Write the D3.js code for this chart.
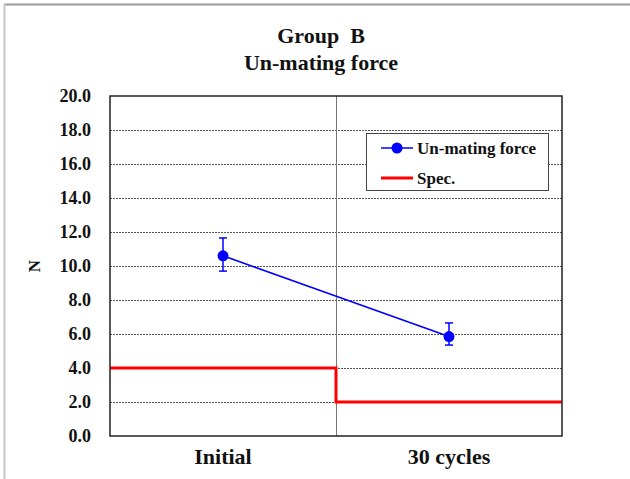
<!DOCTYPE html>
<html>
<head>
<meta charset="utf-8">
<script src="https://cdn.jsdelivr.net/npm/d3@7/dist/d3.min.js"></script>
<style>
  html, body { margin: 0; padding: 0; background: #fff; }
  svg text { font-family: "Liberation Serif", "Times New Roman", serif; font-weight: bold; fill: #111; }
</style>
</head>
<body>
<svg id="chart" width="630" height="479"></svg>
<script>
const categories = ["Initial", "30 cycles"];
const meanValues = [10.6, 5.85];
const errTop = [11.65, 6.65];
const errBottom = [9.7, 5.35];
const specValues = [4.0, 2.0];
const yTicks = [0, 2, 4, 6, 8, 10, 12, 14, 16, 18, 20];
const titleLines = ["Group  B", "Un-mating force"];
const seriesNames = ["Un-mating force", "Spec."];

const svg = d3.select("#chart");
const W = 630, H = 479;
const plot = { left: 110, right: 562, top: 96, bottom: 436 };

// outer frame (top & left edges)
svg.append("line").attr("x1", 4).attr("x2", W).attr("y1", 4.5).attr("y2", 4.5)
  .attr("stroke", "#9a9a9a").attr("stroke-width", 2);
svg.append("line").attr("x1", 4.5).attr("x2", 4.5).attr("y1", 4).attr("y2", H)
  .attr("stroke", "#c8c8c8").attr("stroke-width", 2);

const x = d3.scaleBand().domain(categories).range([plot.left, plot.right]).padding(0);
const y = d3.scaleLinear().domain([0, 20]).range([plot.bottom, plot.top]);

// gridlines
svg.append("g").selectAll("line").data(yTicks.filter(t => t > 0 && t < 20)).join("line")
  .attr("x1", plot.left).attr("x2", plot.right)
  .attr("y1", d => Math.round(y(d)) + 0.5).attr("y2", d => Math.round(y(d)) + 0.5)
  .attr("stroke", "#555").attr("stroke-width", 1).attr("stroke-dasharray", "2,1");

// category divider
categories.slice(1).forEach(c => {
  svg.append("line").attr("x1", Math.round(x(c)) + 0.5).attr("x2", Math.round(x(c)) + 0.5)
    .attr("y1", plot.top).attr("y2", plot.bottom).attr("stroke", "#777").attr("stroke-width", 1);
});

// y axis
const yAxis = d3.axisLeft(y).tickValues(yTicks).tickFormat(d3.format(".1f")).tickSize(0).tickPadding(19);
const gy = svg.append("g").attr("transform", `translate(${plot.left},0)`).call(yAxis);
gy.select(".domain").remove();
gy.selectAll("text").attr("font-size", 18).attr("fill", "#111")
  .attr("font-family", "Liberation Serif, serif").attr("font-weight", "bold");

// x axis labels
const xAxis = d3.axisBottom(x).tickSize(0).tickPadding(12);
const gx = svg.append("g").attr("transform", `translate(0,${plot.bottom})`).call(xAxis);
gx.select(".domain").remove();
gx.selectAll("text").attr("font-size", 22).attr("fill", "#111")
  .attr("font-family", "Liberation Serif, serif").attr("font-weight", "bold");

// spec step line
const specPts = [];
categories.forEach((c, i) => {
  specPts.push([x(c), specValues[i]]);
  specPts.push([x(c) + x.bandwidth(), specValues[i]]);
});
svg.append("path")
  .attr("d", d3.line().x(d => d[0]).y(d => y(d[1]))(specPts))
  .attr("fill", "none").attr("stroke", "#ff0000").attr("stroke-width", 3);

// series line
const cx = c => x(c) + x.bandwidth() / 2;
svg.append("path")
  .attr("d", d3.line().x((d, i) => cx(categories[i])).y(d => y(d))(meanValues))
  .attr("fill", "none").attr("stroke", "#0000ff").attr("stroke-width", 1.5);

// error bars
const eb = svg.append("g").attr("stroke", "#0000ff").attr("stroke-width", 1.5);
categories.forEach((c, i) => {
  const xx = cx(c);
  eb.append("line").attr("x1", xx).attr("x2", xx).attr("y1", y(errTop[i])).attr("y2", y(errBottom[i]));
  eb.append("line").attr("x1", xx - 4).attr("x2", xx + 4).attr("y1", y(errTop[i])).attr("y2", y(errTop[i]));
  eb.append("line").attr("x1", xx - 4).attr("x2", xx + 4).attr("y1", y(errBottom[i])).attr("y2", y(errBottom[i]));
});

// markers
svg.append("g").selectAll("circle").data(meanValues).join("circle")
  .attr("cx", (d, i) => cx(categories[i])).attr("cy", d => y(d)).attr("r", 5.5)
  .attr("fill", "#0000ff");

// plot border
svg.append("rect").attr("x", plot.left).attr("y", plot.top)
  .attr("width", plot.right - plot.left).attr("height", plot.bottom - plot.top)
  .attr("fill", "none").attr("stroke", "#222").attr("stroke-width", 1.5);

// title
svg.append("text").attr("x", 321).attr("y", 43).attr("text-anchor", "middle")
  .attr("font-size", 22).style("white-space", "pre").attr("xml:space", "preserve").text(titleLines[0]);
svg.append("text").attr("x", 321).attr("y", 70).attr("text-anchor", "middle")
  .attr("font-size", 22).text(titleLines[1]);

// y axis title
svg.append("text").attr("transform", "translate(40,266) rotate(-90)")
  .attr("text-anchor", "middle").attr("font-size", 17).text("N");

// legend
const lg = svg.append("g");
lg.append("rect").attr("x", 366.5).attr("y", 133.5).attr("width", 182).attr("height", 57)
  .attr("fill", "#fff").attr("stroke", "#444").attr("stroke-width", 1);
lg.append("line").attr("x1", 381).attr("x2", 413).attr("y1", 148).attr("y2", 148)
  .attr("stroke", "#0000ff").attr("stroke-width", 1.5);
lg.append("circle").attr("cx", 397).attr("cy", 148).attr("r", 5.5).attr("fill", "#0000ff");
lg.append("text").attr("x", 417).attr("y", 154).attr("font-size", 17).text(seriesNames[0]);
lg.append("line").attr("x1", 381).attr("x2", 413).attr("y1", 178).attr("y2", 178)
  .attr("stroke", "#ff0000").attr("stroke-width", 3);
lg.append("text").attr("x", 417).attr("y", 184).attr("font-size", 17).text(seriesNames[1]);
</script>
</body>
</html>
